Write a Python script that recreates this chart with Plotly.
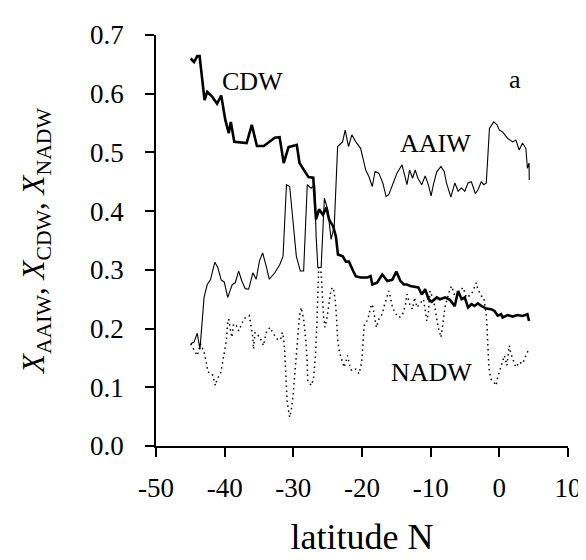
import plotly.graph_objects as go

# ---- data ----
cdw_lat = [-44.95, -44.46, -43.99, -43.65, -42.93, -42.54, -41.82, -41.1, -40.5, -39.9, -39.4, -39.1, -38.6, -37.5,
           -36.8, -36.05, -35.3, -34.3, -33.45, -32.7, -32.0, -31.4, -30.7, -29.5, -29.1, -28.4, -27.8, -27.1, -26.7,
           -26.25, -25.7, -25.2, -24.8, -24.2, -23.8, -23.5, -22.8, -22.35, -21.9, -21.2, -20.9, -20.2, -19.2, -18.75,
           -18.5, -17.8, -17.05, -16.3, -15.6, -15.0, -14.4, -13.9, -13.45, -12.97, -12.25, -11.8, -11.3, -10.8, -10.3,
           -9.85, -9.1, -8.65, -7.9, -7.2, -6.5, -6.0, -5.5, -5.04, -4.56, -4.07, -3.6, -3.12, -2.63, -1.9, -1.2, -0.7,
           -0.24, 0.25, 0.48, 1.2, 1.93, 2.65, 3.37, 4.09, 4.33]
cdw_val = [0.660, 0.654, 0.664, 0.664, 0.589, 0.603, 0.595, 0.583, 0.597, 0.555, 0.533, 0.552, 0.518, 0.516,
           0.516, 0.547, 0.511, 0.511, 0.518, 0.525, 0.526, 0.482, 0.509, 0.513, 0.482, 0.470, 0.458, 0.457, 0.386,
           0.403, 0.394, 0.406, 0.386, 0.374, 0.357, 0.326, 0.323, 0.314, 0.314, 0.296, 0.289, 0.287, 0.287, 0.2895,
           0.275, 0.278, 0.292, 0.281, 0.283, 0.297, 0.281, 0.275, 0.275, 0.2725, 0.2715, 0.270, 0.258, 0.267, 0.250,
           0.2455, 0.253, 0.250, 0.253, 0.249, 0.238, 0.264, 0.250, 0.253, 0.236, 0.2415, 0.2385, 0.243, 0.2385, 0.234,
           0.233, 0.230, 0.222, 0.2245, 0.219, 0.223, 0.2205, 0.223, 0.2215, 0.2245, 0.213]

aaiw_lat = [-44.95, -44.46, -43.99, -43.6, -43.0, -42.54, -42.07, -41.43, -41.0, -40.5, -40.05, -39.56, -38.9, -38.46,
            -37.97, -37.5, -37.0, -36.5, -35.9, -35.4, -34.94, -34.47, -33.9, -33.5, -32.7, -31.97, -31.5, -31.0,
            -30.53, -29.56, -28.98, -28.5, -27.97, -27.4, -26.9, -26.68, -26.43, -25.95, -25.48, -24.99, -24.5,
            -24.04, -23.55, -22.83, -22.45, -21.96, -21.48, -20.9, -20.2, -19.46, -19.0, -18.5, -18.1, -17.55, -16.97,
            -16.5, -16.1, -15.5, -14.9, -14.17, -13.8, -13.45, -13.07, -12.64, -12.25, -11.86, -11.3, -10.8, -10.34,
            -9.94, -9.6, -9.12, -8.5, -8.03, -7.7, -7.06, -6.48, -6.0, -5.52, -5.04, -4.56, -4.07, -3.5, -3.12, -2.63,
            -2.26, -1.9, -1.44, -0.82, -0.33, 0.0, 0.48, 1.2, 1.93, 2.41, 2.9, 3.37, 3.86, 4.09, 4.33, 4.36]
aaiw_val = [0.174, 0.177, 0.192, 0.165, 0.253, 0.275, 0.283, 0.313, 0.304, 0.283, 0.279, 0.253, 0.275, 0.278,
            0.298, 0.281, 0.268, 0.267, 0.295, 0.284, 0.315, 0.329, 0.304, 0.284, 0.295, 0.309, 0.323, 0.445,
            0.442, 0.323, 0.298, 0.298, 0.445, 0.439, 0.445, 0.357, 0.304, 0.304, 0.422, 0.403, 0.352,
            0.374, 0.510, 0.518, 0.538, 0.510, 0.530, 0.518, 0.507, 0.470, 0.459, 0.442, 0.4675, 0.4647, 0.448,
            0.425, 0.428, 0.445, 0.465, 0.479, 0.459, 0.445, 0.470, 0.456, 0.470, 0.456, 0.445, 0.460, 0.445,
            0.426, 0.445, 0.467, 0.476, 0.4675, 0.448, 0.424, 0.448, 0.434, 0.4395, 0.434, 0.448, 0.450, 0.430, 0.436, 0.450,
            0.445, 0.448, 0.541, 0.552, 0.547, 0.538, 0.535, 0.524, 0.518, 0.521, 0.504, 0.516, 0.507, 0.473, 0.482, 0.453]

nadw_lat = [-44.95, -44.5, -43.99, -43.5, -43.0, -42.64, -42.44, -41.82, -41.35, -41.1, -40.6, -40.38, -40.05, -39.76,
            -39.56, -39.4, -39.18, -38.94, -38.7, -38.3, -37.97, -37.6, -37.16, -36.4, -36.2, -35.9, -35.8, -35.58,
            -35.3, -34.85, -34.36, -33.9, -33.4, -32.9, -32.35, -31.87, -31.6, -31.4, -31.25, -31.1, -30.9, -30.53,
            -30.28, -30.04, -29.8, -29.56, -29.3, -29.1, -28.84, -28.5, -28.2, -28.0, -27.9, -27.4, -27.07, -26.78,
            -26.58, -26.43, -26.3, -25.95, -25.8, -25.6, -25.4, -25.13, -24.85, -24.5, -24.2, -23.9, -23.7, -23.55,
            -23.3, -22.93, -22.6, -22.1, -21.87, -21.5, -20.9, -20.43, -20.04, -19.85, -19.7, -19.46, -19.08, -18.75,
            -18.5, -18.27, -17.9, -17.55, -17.05, -16.83, -16.48, -16.1, -15.86, -15.6, -15.24, -14.66, -14.17, -13.7,
            -13.45, -13.2, -12.97, -12.64, -12.35, -12.0, -11.53, -11.05, -10.81, -10.57, -10.33, -10.1, -9.6, -9.37,
            -9.12, -8.9, -8.5, -8.32, -8.1, -7.93, -7.54, -7.2, -6.96, -6.58, -6.2, -5.76, -5.28, -4.8, -4.07, -3.6,
            -3.35, -3.12, -2.63, -2.26, -2.05, -1.9, -1.8, -1.68, -1.58, -1.44, -1.2, -0.82, -0.47, -0.24, 0.15, 0.48,
            0.73, 1.1, 1.45, 1.69, 2.07, 2.41, 2.9, 3.37, 3.86, 4.19]
nadw_val = [0.174, 0.165, 0.154, 0.174, 0.160, 0.140, 0.126, 0.123, 0.103, 0.114, 0.123, 0.137, 0.160, 0.179,
            0.210, 0.216, 0.199, 0.185, 0.208, 0.205, 0.196, 0.205, 0.217, 0.222, 0.208, 0.185, 0.165, 0.1935,
            0.190, 0.185, 0.171, 0.195, 0.202, 0.191, 0.182, 0.181, 0.1935, 0.182, 0.160, 0.109, 0.075, 0.049,
            0.0636, 0.086, 0.120, 0.154, 0.188, 0.222, 0.236, 0.216, 0.182, 0.148, 0.1115, 0.103, 0.114, 0.154,
            0.205, 0.2556, 0.304, 0.295, 0.2556, 0.222, 0.202, 0.216, 0.2386, 0.267, 0.270, 0.250, 0.216, 0.182,
            0.160, 0.148, 0.134, 0.154, 0.140, 0.128, 0.131, 0.123, 0.143, 0.177, 0.205, 0.2076, 0.219, 0.236,
            0.2415, 0.2275, 0.202, 0.216, 0.2245, 0.236, 0.250, 0.264, 0.253, 0.2386, 0.2275, 0.219, 0.2217, 0.2386,
            0.2585, 0.249, 0.2386, 0.233, 0.253, 0.236, 0.244, 0.250, 0.233, 0.213, 0.2275, 0.264, 0.250, 0.233,
            0.219, 0.202, 0.185, 0.205, 0.219, 0.236, 0.2556, 0.267, 0.2725, 0.2585, 0.260, 0.264, 0.270, 0.253, 0.258, 0.270,
            0.278, 0.267, 0.2556, 0.253, 0.236, 0.222, 0.205, 0.165, 0.148, 0.126, 0.114, 0.109, 0.103, 0.117, 0.131, 0.143,
            0.154, 0.137, 0.171, 0.157, 0.143, 0.134, 0.143, 0.140, 0.154, 0.162]

x_ticks = [-50, -40, -30, -20, -10, 0, 10]
y_ticks = [0.0, 0.1, 0.2, 0.3, 0.4, 0.5, 0.6, 0.7]

labels = [("CDW", -36.0, 0.62), ("a", 2.3, 0.625), ("AAIW", -9.3, 0.516), ("NADW", -9.85, 0.125)]

FONT = "Liberation Serif, Times New Roman, serif"

fig = go.Figure()
fig.add_trace(go.Scatter(x=nadw_lat, y=nadw_val, mode="lines", name="NADW",
                         line=dict(color="black", width=1.5, dash="1.5px,3.5px")))
fig.add_trace(go.Scatter(x=aaiw_lat, y=aaiw_val, mode="lines", name="AAIW",
                         line=dict(color="black", width=1.1)))
fig.add_trace(go.Scatter(x=cdw_lat, y=cdw_val, mode="lines", name="CDW",
                         line=dict(color="black", width=2.6)))

for txt, lx, ly in labels:
    fig.add_annotation(x=lx, y=ly, text=txt, showarrow=False,
                       font=dict(family=FONT, size=26, color="black"))

fig.update_layout(
    width=586, height=560,
    margin=dict(l=148, r=22, t=24, b=122),
    paper_bgcolor="white", plot_bgcolor="white",
    showlegend=False,
    font=dict(family=FONT, color="black", size=26),
)
fig.update_xaxes(
    range=[-50, 10], tickvals=x_ticks, ticktext=[str(v) for v in x_ticks],
    showgrid=False, zeroline=False, showline=True, linecolor="black", linewidth=1.5,
    ticks="outside", ticklen=9, tickwidth=1.5, tickcolor="black",
    tickfont=dict(family=FONT, size=27), ticklabelstandoff=8,
    title=dict(text="latitude N", font=dict(family=FONT, size=36), standoff=22),
)
fig.update_yaxes(
    range=[0, 0.7], tickvals=y_ticks, ticktext=[f"{v:.1f}" for v in y_ticks],
    showgrid=False, zeroline=False, showline=True, linecolor="black", linewidth=1.5,
    ticks="outside", ticklen=9, tickwidth=1.5, tickcolor="black",
    tickfont=dict(family=FONT, size=27), ticklabelstandoff=16,
    title=dict(text="<i>X</i><sub>AAIW</sub>, <i>X</i><sub>CDW</sub>, <i>X</i><sub>NADW</sub>",
               font=dict(family=FONT, size=31), standoff=36),
)

fig.write_html("out.html")
